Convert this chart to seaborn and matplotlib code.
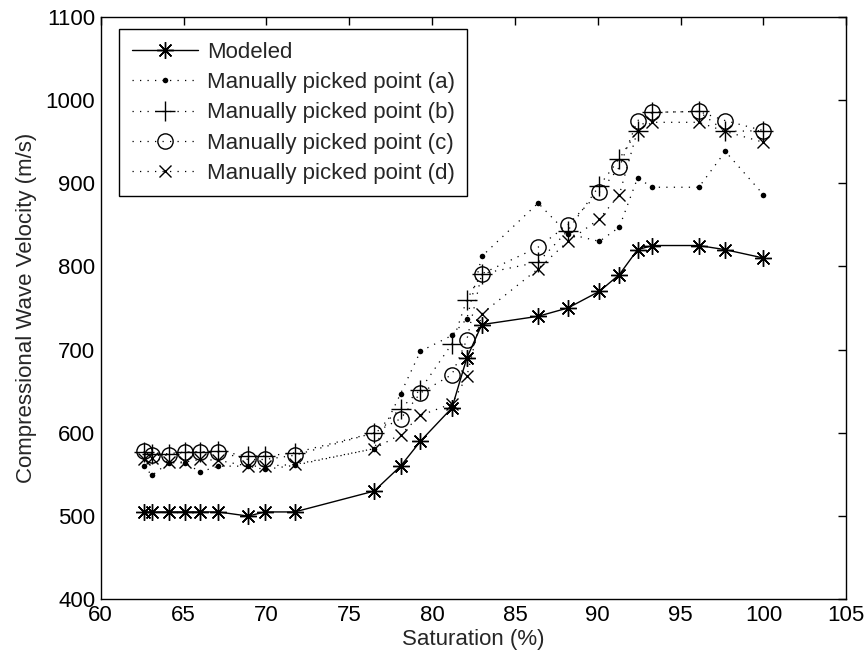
import numpy as np
import pandas as pd
import seaborn as sns
import matplotlib.pyplot as plt

# Data
sat = [62.6, 63.1, 64.1, 65.1, 66.0, 67.1, 68.9, 69.9, 71.7, 76.5, 78.1, 79.3,
       81.2, 82.1, 83.0, 86.4, 88.2, 90.1, 91.3, 92.4, 93.3, 96.1, 97.7, 100.0]
modeled = [505, 505, 505, 505, 505, 505, 500, 505, 505, 530, 560, 590,
           630, 690, 730, 740, 750, 770, 790, 820, 825, 825, 820, 810]
pick_a = [560, 549, 564, 564, 553, 560, 560, 556, 561, 581, 647, 698,
          717, 737, 812, 876, 839, 830, 847, 906, 895, 895, 938, 886]
pick_b = [577, 575, 575, 577, 577, 578, 572, 572, 576, 600, 629, 652,
          707, 760, 791, 805, 843, 897, 929, 963, 985, 986, 962, 963]
pick_c = [578, 573, 573, 577, 577, 577, 568, 568, 573, 600, 617, 648,
          670, 712, 791, 823, 850, 889, 919, 975, 985, 986, 975, 963]
pick_d = [568, 570, 565, 565, 568, 567, 560, 560, 562, 581, 598, 621,
          635, 668, 743, 797, 830, 857, 886, 963, 973, 973, 962, 949]

labels = ['Modeled', 'Manually picked point (a)', 'Manually picked point (b)',
          'Manually picked point (c)', 'Manually picked point (d)']

sns.set_style('white')
plt.rcParams['font.family'] = ['Liberation Sans', 'DejaVu Sans']

fig, ax = plt.subplots(figsize=(8.68, 6.63), dpi=100)
fig.subplots_adjust(left=0.116, right=0.975, top=0.975, bottom=0.096)

dotted = (0, (1, 5))
common = dict(ax=ax, color='k', markeredgecolor='k', sort=False)

# Modeled (solid with asterisks)
sns.lineplot(x=sat, y=modeled, lw=1.0, marker=(8, 2, 0), markersize=12,
             markeredgewidth=1.0, label=labels[0], **common)

# Manual picks (dotted)
sns.lineplot(x=sat, y=pick_a, lw=0.9, linestyle=dotted, marker='o',
             markersize=4, markeredgewidth=0, label=labels[1], **common)
sns.lineplot(x=sat, y=pick_b, lw=0.9, linestyle=dotted, marker='+',
             markersize=15, markeredgewidth=1.0, label=labels[2], **common)
sns.lineplot(x=sat, y=pick_c, lw=0.9, linestyle=dotted, marker='o',
             markersize=11, markerfacecolor='none', markeredgewidth=1.0,
             label=labels[3], **common)
sns.lineplot(x=sat, y=pick_d, lw=0.9, linestyle=dotted, marker='x',
             markersize=9, markeredgewidth=1.0, label=labels[4], **common)

ax.set_xlim(60, 105)
ax.set_ylim(400, 1100)
ax.set_xticks(np.arange(60, 106, 5))
ax.set_yticks(np.arange(400, 1101, 100))
ax.set_xlabel('Saturation (%)', fontsize=16, labelpad=2)
ax.set_ylabel('Compressional Wave Velocity (m/s)', fontsize=16, labelpad=6)
ax.tick_params(direction='in', top=True, right=True, length=6, width=1,
               labelsize=16, colors='k', pad=4)
for sp in ax.spines.values():
    sp.set_color('k')
    sp.set_linewidth(1.0)

leg = ax.legend(loc='upper left', bbox_to_anchor=(0.025, 0.978), borderaxespad=0,
                fontsize=16, frameon=True, fancybox=False, framealpha=1,
                edgecolor='k', handlelength=3.0, handletextpad=0.4,
                labelspacing=0.42, borderpad=0.55)
leg.get_frame().set_linewidth(1.0)

fig.savefig('out.png', dpi=100)
